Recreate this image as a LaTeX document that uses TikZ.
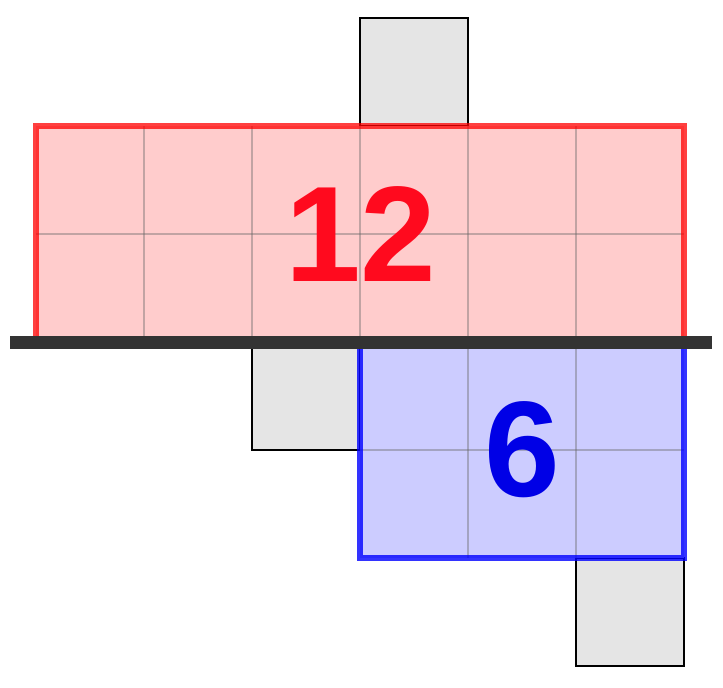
\documentclass[tikz,border=0pt]{standalone}
\usepackage{fontspec}
\setmainfont{Liberation Sans}
\definecolor{redfill}{HTML}{FFCCCC}
\definecolor{bluefill}{HTML}{CCCCFF}
\definecolor{redtxt}{HTML}{FF0A1E}
\definecolor{bluetxt}{HTML}{0000E6}
\definecolor{boxgray}{HTML}{E5E5E5}
\definecolor{axisgray}{HTML}{333333}
\tikzset{
  graybox/.style={fill=boxgray,draw=black,line width=2.5pt},
  gridline/.style={draw=black!60,opacity=0.4,line width=2.5pt},
  redborder/.style={draw=red,opacity=0.75,line width=6pt},
  blueborder/.style={draw=blue,opacity=0.8,line width=6pt},
  bignum/.style={font=\fontsize{136}{136}\selectfont\bfseries,inner sep=0pt}
}
\begin{document}
\begin{tikzpicture}[x=1pt,y=-1pt]
\useasboundingbox (0,0) rectangle (723,688);
% gray boxes
\draw[graybox] (360,18) rectangle (468,126);
\draw[graybox] (252,342) rectangle (360,450);
\draw[graybox] (576,558) rectangle (684,666);
% red region
\fill[redfill] (36,126) rectangle (684,342);
\foreach \x in {144,252,360,468,576} \draw[gridline] (\x,126) -- (\x,342);
\draw[gridline] (36,234) -- (684,234);
\draw[redborder] (36,126) rectangle (684,342);
% blue region
\fill[bluefill] (360,342) rectangle (684,558);
\foreach \x in {468,576} \draw[gridline] (\x,342) -- (\x,558);
\draw[gridline] (360,450) -- (684,450);
\draw[blueborder] (360,342) rectangle (684,558);
% axis line
\coordinate (axL) at (10,342);
\coordinate (axR) at (712,342);
\draw[axisgray,line width=13pt] (axL) -- (axR);
% labels
\node[bignum,text=redtxt] (twelve) at (361,234) {12};
\node[bignum,text=bluetxt] (six) at (522,450) {6};
\end{tikzpicture}
\end{document}
